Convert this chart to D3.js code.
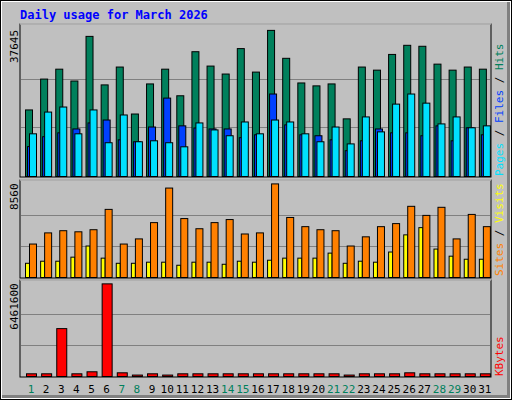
<!DOCTYPE html>
<html><head><meta charset="utf-8">
<script src="https://cdn.jsdelivr.net/npm/d3@7"></script>
<style>body{margin:0;background:#fff}</style>
</head><body><svg width="512" height="400"></svg>
<script>
// data
const days = d3.range(1, 32);
const weekends = [1, 7, 8, 14, 15, 21, 22, 28, 29];
const hits = [17150,25100,27650,24600,36100,23600,28200,16100,23850,27650,20800,32150,28450,26400,32950,26900,37645,30450,24100,23350,23850,14850,28200,27400,31450,33800,33550,28950,27400,28200,27650];
const files = [7700,10250,11250,12250,13800,14550,9450,8950,12750,20200,13050,12500,12250,12250,10000,10750,21250,13300,10750,10500,9450,6650,9200,12250,11250,11250,10500,13050,9200,12550,10750];
const pages = [11000,16600,17900,11000,17150,8700,15850,8950,9200,8700,7650,13800,12000,10500,14050,11000,14550,14050,11000,8950,12750,8400,15350,11500,18650,21250,18900,13550,15350,12550,13050];
const sites = [3060,4080,4280,4180,4370,6230,3060,3530,5020,8180,5390,4460,5020,5300,3980,4080,8560,5490,4650,4370,4280,2880,3720,4650,4930,6510,5680,6420,3530,5770,4650];
const visits = [1300,1490,1490,1860,2880,1770,1300,1300,1400,1400,1120,1400,1400,1210,1490,1400,1580,1770,1770,1770,2230,1300,1490,1400,2330,3900,4560,2600,1950,1670,1670];
const kbytes = [188000,188000,3340000,188000,329000,6461600,258000,100000,188000,100000,188000,188000,188000,188000,188000,188000,188000,188000,188000,188000,188000,100000,188000,188000,188000,258000,188000,188000,188000,188000,188000];

const svg = d3.select('svg');
const mono = "'DejaVu Sans Mono', monospace";

// background + bevel
svg.append('rect').attr('x',0).attr('y',0).attr('width',512).attr('height',400).attr('fill','#000');
svg.append('rect').attr('x',1).attr('y',1).attr('width',510).attr('height',398).attr('fill','#fff');
svg.append('rect').attr('x',2).attr('y',2).attr('width',508).attr('height',396).attr('fill','#808080');
svg.append('rect').attr('x',2).attr('y',2).attr('width',505).attr('height',393).attr('fill','#c0c0c0');

svg.append('text').attr('x',20).attr('y',19).text('Daily usage for March 2026')
  .attr('fill','#0000ff').attr('font-family',mono).attr('font-weight','bold').attr('font-size',12);

const x = d3.scaleBand().domain(days).range([21, 490]).paddingInner(0).paddingOuter(0);
// x(d) gives a 15px slot; bars sit inside it with offsets

function panel(top, bottom, max, label) {
  svg.append('rect').attr('x',20).attr('y',top).attr('width',471).attr('height',bottom-top)
    .attr('fill','#c0c0c0').attr('stroke','#000');
  svg.append('line').attr('x1',20).attr('x2',491).attr('y1',top).attr('y2',top).attr('stroke','#fff');
  const y = d3.scaleLinear().domain([0, max]).range([bottom-1, bottom-1-(bottom-top)*0.955]);
  [max/3, max*2/3].forEach(v => svg.append('line').attr('x1',21).attr('x2',490)
    .attr('y1',Math.round(y(v))+0.5).attr('y2',Math.round(y(v))+0.5).attr('stroke','#808080'));
  svg.append('text').attr('transform',`translate(18,${y(max)}) rotate(-90)`).attr('text-anchor','end')
    .attr('font-family',mono).attr('font-size',11).text(label);
  return y;
}

function bars(y, data, off, w, fill) {
  svg.append('g').selectAll('rect').data(data).join('rect')
    .attr('x', (d,i) => x(days[i]) + off + 0.5)
    .attr('y', d => y(d) + 0.5)
    .attr('width', w)
    .attr('height', d => Math.max(0, y(0) - y(d)))
    .attr('fill', fill).attr('stroke','#000');
}

const y1 = panel(24, 177, 37645, '37645');
bars(y1, hits, 4, 7, '#00805c');
bars(y1, files, 6, 7, '#0040ff');
bars(y1, pages, 8, 7, '#00e0ff');

const y2 = panel(180, 278, 8560, '8560');
bars(y2, visits, 4, 4, '#ffff00');
bars(y2, sites, 8, 7, '#ff8000');

const y3 = panel(280, 377, 6461600, '6461600');
bars(y3, kbytes, 5, 10, '#ff0000');

// legends on right
function legend(yPos, parts) {
  const t = svg.append('text').attr('transform',`translate(503,${yPos}) rotate(-90)`)
    .attr('font-family',mono).attr('font-size',11);
  parts.forEach(p => t.append('tspan').attr('fill',p[1]).text(p[0]));
}
legend(176, [['Pages','#00e0ff'],[' / ','#000'],['Files','#0040ff'],[' / ','#000'],['Hits','#00805c']]);
legend(276, [['Sites','#ff8000'],[' / ','#000'],['Visits','#ffff00']]);
legend(376, [['KBytes','#ff0000']]);

// day labels
svg.append('g').selectAll('text').data(days).join('text')
  .attr('x', d => x(d) + 10).attr('y', 393).attr('text-anchor','middle')
  .attr('font-family',mono).attr('font-size',11)
  .attr('fill', d => weekends.includes(d) ? '#00805c' : '#000')
  .text(d => d);
</script></body></html>
